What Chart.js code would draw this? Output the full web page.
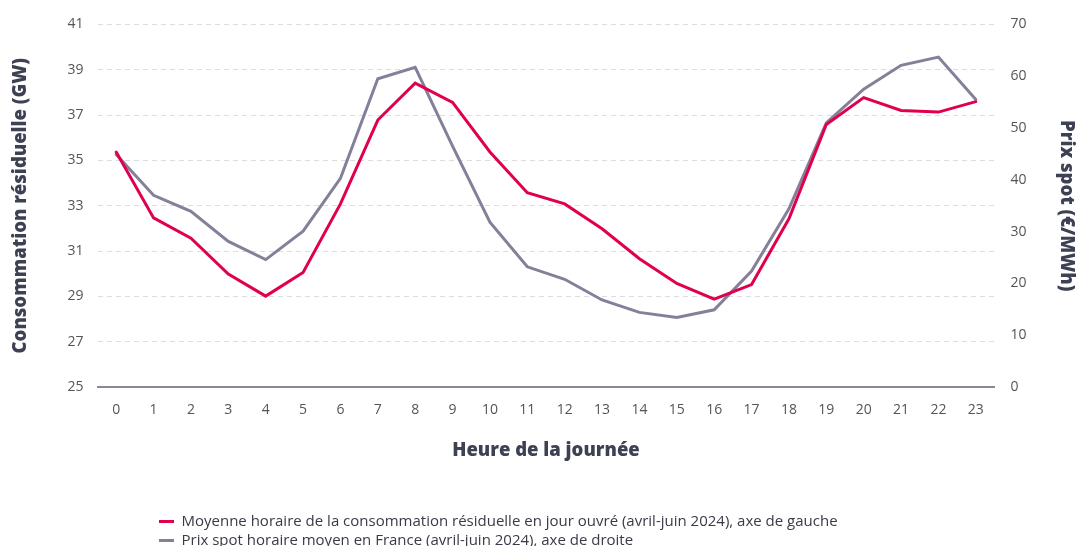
<!DOCTYPE html>
<html>
<head>
<meta charset="utf-8">
<script src="https://cdn.jsdelivr.net/npm/chart.js@4/dist/chart.umd.min.js"></script>
<style>
html,body{margin:0;padding:0;background:#fff;}
#wrap{position:relative;width:1076px;height:546px;}
</style>
</head>
<body>
<div id="wrap"><canvas id="c" width="1076" height="546"></canvas></div>
<script>
const hours = ['0','1','2','3','4','5','6','7','8','9','10','11','12','13','14','15','16','17','18','19','20','21','22','23'];
const consoResiduelle = [35.37,32.46,31.57,29.98,29.01,30.05,33.08,36.78,38.41,37.56,35.37,33.57,33.08,31.98,30.66,29.57,28.88,29.52,32.42,36.58,37.77,37.2,37.13,37.59];
const prixSpot = [44.9,37.0,33.9,28.1,24.6,30.1,40.3,59.5,61.7,46.5,31.8,23.2,20.8,16.8,14.4,13.4,14.9,22.4,34.4,51.0,57.5,62.1,63.7,55.5];
const leftTicks = {min:25,max:41,step:2};
const rightTicks = {min:0,max:70,step:10};
const labelConso = 'Moyenne horaire de la consommation résiduelle en jour ouvré (avril-juin 2024), axe de gauche';
const labelPrix = 'Prix spot horaire moyen en France (avril-juin 2024), axe de droite';

const RED = '#E0004D';
const GREY = '#857F9A';
const TXT = '#555555';
const TITLE = '#3E4153';
const FONT = "'Open Sans', sans-serif";

const legendShift = {
  id:'legendShift',
  afterLayout(chart){
    const lg = chart.legend;
    if(lg){ lg.left += 144; lg.right += 144; lg.top += 12; lg.bottom += 12; }
  }
};

new Chart(document.getElementById('c'), {
  type:'line',
  data:{
    labels: hours,
    datasets:[
      {label:labelConso, data:consoResiduelle, yAxisID:'y', borderColor:RED, backgroundColor:RED, borderWidth:3, pointRadius:0, tension:0, borderCapStyle:'round'},
      {label:labelPrix, data:prixSpot, yAxisID:'y1', borderColor:GREY, backgroundColor:GREY, borderWidth:3, pointRadius:0, tension:0, borderCapStyle:'round'}
    ]
  },
  options:{
    responsive:false,
    animation:false,
    layout:{padding:{top:10,right:0,left:11,bottom:0}},
    plugins:{
      legend:{
        position:'bottom',
        align:'start',
        labels:{
          usePointStyle:true,
          pointStyle:'line',
          pointStyleWidth:15,
          color:'#3a3a48',
          font:{family:FONT,size:15},
          padding:4,
          boxHeight:12
        }
      },
      tooltip:{enabled:false}
    },
    scales:{
      x:{
        offset:true,
        grid:{display:false, drawTicks:false},
        border:{display:true, color:'#8A879A', width:2},
        ticks:{color:TXT, font:{family:FONT,size:14}, padding:15, maxRotation:0},
        title:{display:true, text:'Heure de la journée', color:TITLE, font:{family:FONT,size:18.5,weight:800}, padding:{top:6,bottom:36}}
      },
      y:{
        position:'left',
        min:leftTicks.min, max:leftTicks.max,
        ticks:{stepSize:leftTicks.step, color:TXT, font:{family:FONT,size:14}, padding:14},
        grid:{drawTicks:false, color:(c)=> c.tick && c.tick.value===leftTicks.min ? 'rgba(0,0,0,0)' : '#D9DCE4', lineWidth:1},
        border:{display:false, dash:[5,4]},
        title:{display:true, text:'Consommation résiduelle (GW)', color:TITLE, font:{family:FONT,size:18.5,weight:800,lineHeight:1}, padding:{top:0,bottom:24}}
      },
      y1:{
        position:'right',
        min:rightTicks.min, max:rightTicks.max,
        ticks:{stepSize:rightTicks.step, color:TXT, font:{family:FONT,size:14}, padding:16},
        grid:{display:false, drawTicks:false},
        border:{display:false},
        title:{display:true, text:'Prix spot (€/MWh)', color:TITLE, font:{family:FONT,size:18.5,weight:800,lineHeight:1}, padding:{top:0,bottom:15}}
      }
    }
  },
  plugins:[legendShift]
});
</script>
</body>
</html>
